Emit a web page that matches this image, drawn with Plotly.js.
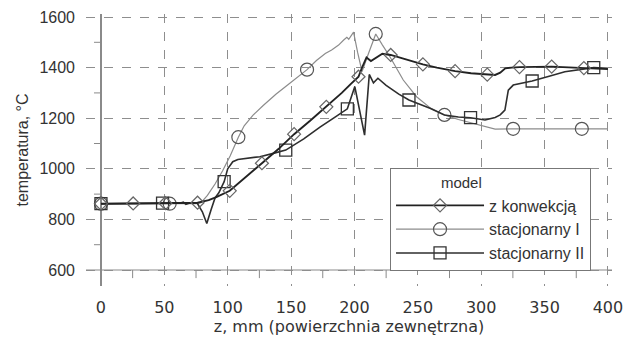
<!DOCTYPE html>
<html>
<head>
<meta charset="utf-8">
<script src="https://cdn.plot.ly/plotly-3.0.1.min.js"></script>
<style>html,body{margin:0;padding:0;background:#fff;}#chart{width:624px;height:342px;}</style>
</head>
<body>
<div id="chart"></div>
<script>
// ---- data ----
var seriesNames = ['z konwekcją', 'stacjonarny I', 'stacjonarny II'];
var legendTitle = 'model';
var xTitle = 'z, mm (powierzchnia zewnętrzna)';
var yTitle = 'temperatura, °C';
var xTicks = [0, 50, 100, 150, 200, 250, 300, 350, 400];
var yTicks = [600, 800, 1000, 1200, 1400, 1600];

var konwX = [0, 25.4, 50.8, 76.2, 85, 91, 101.6, 110, 117.5, 127, 140, 152.4, 165, 177.8, 190, 197, 203.2, 206, 209.5, 213, 217, 222, 228.6, 240, 254, 265, 279.4, 292, 304.8, 311, 315, 319, 324, 330.2, 355.6, 370, 381, 400];
var konwY = [862, 863, 864, 866, 876, 888, 913, 950, 981, 1022, 1078, 1137, 1190, 1245, 1300, 1335, 1364, 1400, 1440, 1426, 1440, 1455, 1450, 1432, 1413, 1400, 1386, 1378, 1372, 1371, 1380, 1397, 1400, 1402, 1404, 1401, 1398, 1394];
var konwMarkX = [0, 25.4, 50.8, 76.2, 101.6, 127, 152.4, 177.8, 203.2, 228.6, 254, 279.4, 304.8, 330.2, 355.6, 381];

var stac1X = [0, 54.2, 75, 79, 84, 90, 96, 102, 108.4, 113, 120, 128, 138, 150, 162.6, 170, 177, 182, 187.5, 191.5, 194, 195.5, 197.5, 199.3, 202.5, 206, 211, 216.8, 222, 228, 238.5, 249, 260, 271, 282, 292, 302, 311, 325.2, 379.4, 400];
var stac1Y = [862, 862, 862, 866, 895, 940, 992, 1052, 1125, 1170, 1212, 1250, 1295, 1342, 1392, 1428, 1456, 1470, 1489, 1509, 1520, 1512, 1529, 1540, 1460, 1384, 1455, 1533, 1490, 1443, 1351, 1285, 1240, 1213, 1195, 1182, 1168, 1157, 1158, 1158, 1158];
var stac1MarkX = [0, 54.2, 108.4, 162.6, 216.8, 271, 325.2, 379.4];

var stac2X = [0, 48.6, 62, 65, 67, 70, 76, 80, 83.5, 87, 90, 93, 97.2, 100, 104, 108, 116, 125.4, 136, 145.8, 160, 172.8, 185, 194.4, 200.3, 208, 211.7, 215, 218.5, 225, 235, 243, 250, 259.6, 271, 282, 291.6, 303, 311, 315, 318.7, 321.4, 325.3, 340.2, 355, 366, 388.8, 400];
var stac2Y = [862, 864, 864, 868, 860, 865, 864, 830, 784, 840, 885, 905, 949, 1000, 1028, 1037, 1043, 1048, 1061, 1074, 1118, 1165, 1205, 1237, 1325, 1133, 1373, 1340, 1358, 1330, 1295, 1272, 1258, 1239, 1213, 1205, 1202, 1193, 1203, 1213, 1232, 1311, 1331, 1347, 1368, 1384, 1400, 1397];
var stac2MarkX = [0, 48.6, 97.2, 145.8, 194.4, 243, 291.6, 340.2, 388.8];

// ---- helpers ----
function markIdx(xs, marks) {
  var out = [];
  xs.forEach(function (v, i) { if (marks.indexOf(v) >= 0) out.push(i); });
  return out;
}

var xRange = [-11.8, 403.2];
var yRange = [536.8, 1611.9];
var fontFam = 'Liberation Sans, Arial, Helvetica, sans-serif';
var wideFam = 'DejaVu Sans, Liberation Sans, sans-serif';

var traces = [
  {
    name: seriesNames[1], x: stac1X, y: stac1Y, mode: 'lines+markers', legendrank: 2,
    line: {color: '#8c8c8c', width: 1.2},
    marker: {symbol: 'circle-open', size: 13, color: '#555', line: {width: 1.2, color: '#555'}},
    selectedpoints: markIdx(stac1X, stac1MarkX),
    selected: {marker: {opacity: 1}}, unselected: {marker: {opacity: 0}}
  },
  {
    name: seriesNames[2], x: stac2X, y: stac2Y, mode: 'lines+markers', legendrank: 3,
    line: {color: '#2e2e2e', width: 1.6},
    marker: {symbol: 'square-open', size: 12, color: '#333', line: {width: 1.3, color: '#333'}},
    selectedpoints: markIdx(stac2X, stac2MarkX),
    selected: {marker: {opacity: 1}}, unselected: {marker: {opacity: 0}}
  },
  {
    name: seriesNames[0], x: konwX, y: konwY, mode: 'lines+markers', legendrank: 1,
    line: {color: '#222', width: 1.9},
    marker: {symbol: 'diamond-open', size: 10, color: '#666', line: {width: 1.2, color: '#666'}},
    selectedpoints: markIdx(konwX, konwMarkX),
    selected: {marker: {opacity: 1}}, unselected: {marker: {opacity: 0}}
  }
];

var shapes = [];
// solid bottom axis line at y=600
shapes.push({type: 'line', xref: 'paper', x0: 0, x1: 1, yref: 'y', y0: yTicks[0], y1: yTicks[0], line: {color: '#8a8a8a', width: 1.2}, layer: 'below'});
// minor ticks on x (between major ticks), going down from the 600 line
for (var i = 0; i < xTicks.length - 1; i++) {
  var mx = (xTicks[i] + xTicks[i + 1]) / 2;
  shapes.push({type: 'line', xref: 'x', x0: mx, x1: mx, yref: 'y', y0: yTicks[0], y1: yTicks[0] - 32, line: {color: '#8a8a8a', width: 1}, layer: 'below'});
}
// minor ticks on y, left of the y axis line
for (var j = 0; j < yTicks.length - 1; j++) {
  var my = (yTicks[j] + yTicks[j + 1]) / 2;
  shapes.push({type: 'line', xref: 'x', x0: -5.5, x1: 0, yref: 'y', y0: my, y1: my, line: {color: '#8a8a8a', width: 1}, layer: 'below'});
}

var layout = {
  width: 624, height: 342,
  margin: {l: 86, r: 12, t: 14, b: 56},
  paper_bgcolor: '#fff', plot_bgcolor: '#fff',
  font: {family: fontFam, size: 16, color: '#333'},
  showlegend: true,
  xaxis: {
    range: xRange, tickvals: xTicks, ticks: '', showline: false,
    showgrid: true, gridcolor: '#8e8e8e', gridwidth: 1, griddash: 'dash',
    zeroline: true, zerolinecolor: '#8a8a8a', zerolinewidth: 1.2,
    ticklabelstandoff: 10,
    tickfont: {family: wideFam, size: 16, color: '#333'},
    title: {text: xTitle, font: {family: wideFam, size: 16, color: '#333'}, standoff: 4}
  },
  yaxis: {
    range: yRange, tickvals: yTicks, ticks: '', showline: false,
    showgrid: true, gridcolor: '#8e8e8e', gridwidth: 1, griddash: 'dash',
    zeroline: false,
    ticklabelstandoff: 10,
    tickfont: {size: 16, color: '#333'},
    title: {text: yTitle, font: {size: 16, color: '#333'}, standoff: 6}
  },
  legend: {
    x: 0.578, y: 0.434, xanchor: 'left', yanchor: 'top',
    bgcolor: '#fff', bordercolor: '#777', borderwidth: 1,
    itemwidth: 88, font: {size: 16, color: '#333'},
    title: {text: legendTitle + '\u00a0'.repeat(14), side: 'top center', font: {size: 15, color: '#333'}},
    traceorder: 'normal'
  },
  shapes: shapes
};

Plotly.newPlot('chart', traces, layout, {displayModeBar: false, staticPlot: true});
</script>
</body>
</html>
